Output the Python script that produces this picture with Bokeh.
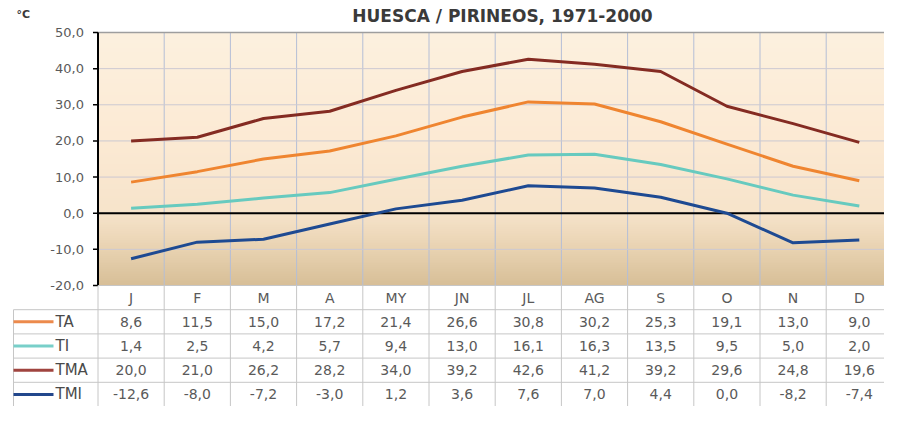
import numpy as np
from bokeh.plotting import figure
from bokeh.models import Range1d
from bokeh.embed import file_html
from bokeh.resources import INLINE
from bokeh.core.properties import value

# ---------------- data ----------------
months = ["J", "F", "M", "A", "MY", "JN", "JL", "AG", "S", "O", "N", "D"]
TA = [8.6, 11.5, 15.0, 17.2, 21.4, 26.6, 30.8, 30.2, 25.3, 19.1, 13.0, 9.0]
TI = [1.4, 2.5, 4.2, 5.7, 9.4, 13.0, 16.1, 16.3, 13.5, 9.5, 5.0, 2.0]
TMA = [20.0, 21.0, 26.2, 28.2, 34.0, 39.2, 42.6, 41.2, 39.2, 29.6, 24.8, 19.6]
TMI = [-12.6, -8.0, -7.2, -3.0, 1.2, 3.6, 7.6, 7.0, 4.4, 0.0, -8.2, -7.4]
series_names = ["TA", "TI", "TMA", "TMI"]
series_values = [TA, TI, TMA, TMI]
y_ticks = [-20, -10, 0, 10, 20, 30, 40, 50]
title_text = "HUESCA / PIRINEOS, 1971-2000"
unit_text = "°C"

# ---------------- styles / layout (pixels) ----------------
series_colors = ["#EF8530", "#67CABF", "#842B22", "#1E4A92"]
legend_colors = ["#EC8A4C", "#78CFC9", "#A0443F", "#22478C"]
FONT = value("DejaVu Sans")
W, H = 884, 406
AXIS_X = 97.5          # px of the y axis
COL = 66.2             # px per month column
PLOT_TOP, PLOT_BOTTOM = 32.0, 285.0
Y_MIN, Y_MAX = y_ticks[0], y_ticks[-1]
NROWS = len(series_names) + 1
ROW_H = (H - PLOT_BOTTOM) / NROWS
KY = (PLOT_BOTTOM - PLOT_TOP) / (Y_MAX - Y_MIN)
n = len(months)
centers = [i + 0.5 for i in range(n)]
bounds = list(range(n + 1))


def px_x(px):
    return (px - AXIS_X) / COL


def px_y(py):
    return Y_MAX + (PLOT_TOP - py) / KY


def fmt(v):
    return f"{v:.1f}".replace(".", ",")


p = figure(width=W, height=H,
           x_range=Range1d(px_x(0), px_x(W)),
           y_range=Range1d(px_y(H), px_y(0)),
           output_backend="svg", toolbar_location=None,
           x_axis_location=None, y_axis_location=None, min_border=0)
p.extra_y_ranges = {"table": Range1d(start=NROWS, end=-PLOT_BOTTOM / ROW_H)}
p.outline_line_color = None
p.background_fill_color = "white"
p.border_fill_color = "white"
for g in p.grid:
    g.visible = False

# ---- plot-area background gradient (decoration) ----
N = 140
ys = np.linspace(Y_MIN, Y_MAX, N)
stops_y = [-20, -10, 0, 20, 50]
stops_c = [(0xD8, 0xBF, 0x98), (0xE9, 0xD3, 0xB2), (0xF7, 0xE4, 0xCB), (0xFC, 0xEA, 0xD4), (0xFD, 0xF1, 0xDF)]
img = np.empty((N, 1), dtype=np.uint32)
view = img.view(dtype=np.uint8).reshape((N, 1, 4))
for ch in range(3):
    view[:, 0, ch] = np.interp(ys, stops_y, [c[ch] for c in stops_c]).astype(np.uint8)
view[:, 0, 3] = 255
p.image_rgba(image=[img], x=0, y=Y_MIN, dw=px_x(W), dh=Y_MAX - Y_MIN, level="image")

# ---- gridlines ----
p.segment(x0=bounds, y0=[Y_MIN] * len(bounds), x1=bounds, y1=[Y_MAX] * len(bounds),
          line_color="#B4BED6", line_width=1)
p.segment(x0=[0] * len(y_ticks), y0=y_ticks, x1=[px_x(W)] * len(y_ticks), y1=y_ticks,
          line_color="#CCC9D2", line_width=1)
p.segment(x0=[0], y0=[Y_MAX], x1=[px_x(W)], y1=[Y_MAX], line_color="#9E9E9E", line_width=1.5)
p.segment(x0=[0], y0=[0], x1=[px_x(W)], y1=[0], line_color="black", line_width=2)

# ---- series ----
for vals, col in zip(series_values, series_colors):
    p.line(x=centers, y=vals, line_color=col, line_width=3, line_join="round")

# ---- y axis ----
p.segment(x0=[0], y0=[Y_MIN], x1=[0], y1=[Y_MAX], line_color="black", line_width=2)
p.segment(x0=[px_x(AXIS_X - 5)] * len(y_ticks), y0=y_ticks, x1=[0] * len(y_ticks), y1=y_ticks,
          line_color="black", line_width=1.5)
p.text(x=[0] * len(y_ticks), y=y_ticks, text=[fmt(t) for t in y_ticks], x_offset=-14,
       text_font=FONT, text_font_size="13px", text_color="#5A5A5A",
       text_align="right", text_baseline="middle")

# ---- title and unit ----
p.text(x=[px_x(502)], y=[px_y(15)], text=[title_text], text_font=FONT, text_font_style="bold",
       text_font_size="17px", text_color="#3A3A3A", text_align="center", text_baseline="middle")
p.text(x=[px_x(16)], y=[px_y(14)], text=[unit_text], text_font=FONT, text_font_style="bold",
       text_font_size="11px", text_color="#3A3A3A", text_align="left", text_baseline="middle")

# ---- data table ----
legend_left = px_x(13)
sample_end = px_x(53)
label_x = px_x(55)
TGRAY = "#C6C6C6"
p.segment(x0=bounds, y0=[0] * len(bounds), x1=bounds, y1=[NROWS] * len(bounds),
          line_color=TGRAY, line_width=1, y_range_name="table")
rb = list(range(1, NROWS + 1))
p.segment(x0=[legend_left] * len(rb), y0=rb, x1=[px_x(W)] * len(rb), y1=rb,
          line_color=TGRAY, line_width=1, y_range_name="table")
p.segment(x0=[0], y0=[0], x1=[px_x(W)], y1=[0], line_color=TGRAY, line_width=1, y_range_name="table")
p.segment(x0=[legend_left], y0=[1], x1=[legend_left], y1=[NROWS],
          line_color=TGRAY, line_width=1, y_range_name="table")

p.text(x=centers, y=[0.5] * n, text=months, text_font=FONT, text_font_size="14px",
       text_color="#5A5A5A", text_align="center", text_baseline="middle", y_range_name="table")
for r, (name, vals, lc) in enumerate(zip(series_names, series_values, legend_colors)):
    yy = r + 1.5
    p.text(x=centers, y=[yy] * n, text=[fmt(v) for v in vals], text_font=FONT,
           text_font_size="14px", text_color="#5A5A5A", text_align="center",
           text_baseline="middle", y_range_name="table")
    p.segment(x0=[legend_left], y0=[yy], x1=[sample_end], y1=[yy], line_color=lc, line_width=3,
              y_range_name="table")
    p.text(x=[label_x], y=[yy], text=[name], text_font=FONT, text_font_size="15px",
           text_color="#4A4A4A", text_align="left", text_baseline="middle", y_range_name="table")

open("out.html", "w").write(file_html(p, INLINE))
